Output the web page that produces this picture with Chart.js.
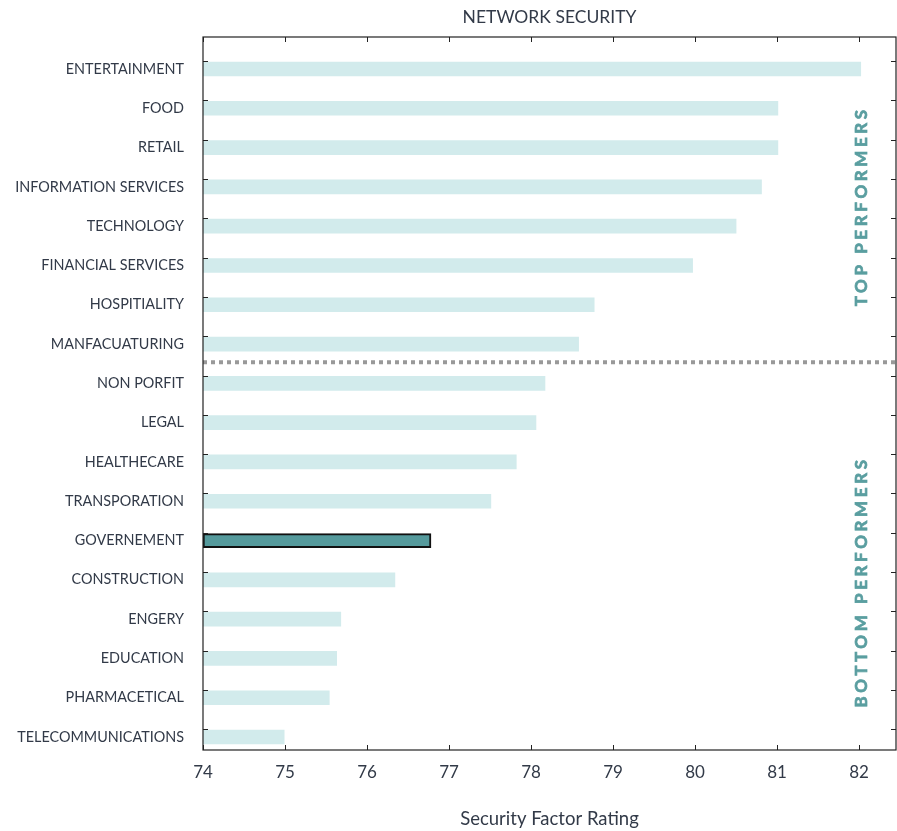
<!DOCTYPE html>
<html>
<head>
<meta charset="utf-8">
<script src="https://cdn.jsdelivr.net/npm/chart.js@4.4.1/dist/chart.umd.min.js"></script>
<style>
  html, body { margin: 0; padding: 0; background: #fff; }
  #wrap { width: 897px; height: 831px; }
</style>
</head>
<body>
<div id="wrap"><canvas id="chart"></canvas></div>
<script>
// Data
const CATEGORIES = [
    'ENTERTAINMENT', 'FOOD', 'RETAIL', 'INFORMATION SERVICES', 'TECHNOLOGY',
    'FINANCIAL SERVICES', 'HOSPITIALITY', 'MANFACUATURING', 'NON PORFIT', 'LEGAL',
    'HEALTHECARE', 'TRANSPORATION', 'GOVERNEMENT', 'CONSTRUCTION', 'ENGERY',
    'EDUCATION', 'PHARMACETICAL', 'TELECOMMUNICATIONS'
];
const RATINGS = [
    82.02, 81.01, 81.01, 80.81, 80.50,
    79.97, 78.77, 78.58, 78.17, 78.06,
    77.82, 77.51, 76.78, 76.34, 75.68,
    75.63, 75.54, 74.99
];
const X_TICKS = [74, 75, 76, 77, 78, 79, 80, 81, 82];
const HIGHLIGHT = 'GOVERNEMENT';
const TOP_COUNT = 8;     // first 8 rows are top performers
const GROUP_LABELS = ['TOP PERFORMERS', 'BOTTOM PERFORMERS'];
const TITLE = 'NETWORK SECURITY';
const X_TITLE = 'Security Factor Rating';

const TEXT = '#323a48';
const TEAL = '#5a9ea0';
const FONT = 'Lato';

// Border box, inward tick marks, split line, group labels and title
const decorPlugin = {
    id: 'decor',
    afterDatasetsDraw(chart) {
        const { ctx, chartArea: a, scales: { x, y } } = chart;
        const step = y.getPixelForValue(1) - y.getPixelForValue(0);
        ctx.save();

        // inward tick marks
        ctx.strokeStyle = '#222';
        ctx.lineWidth = 1;
        ctx.beginPath();
        X_TICKS.forEach(v => {
            const px = Math.round(x.getPixelForValue(v)) + 0.5;
            ctx.moveTo(px, a.top); ctx.lineTo(px, a.top + 5);
            ctx.moveTo(px, a.bottom); ctx.lineTo(px, a.bottom - 5);
        });
        CATEGORIES.forEach((c, i) => {
            const py = Math.round(y.getPixelForValue(i) - 0.2 * step) + 0.5;
            ctx.moveTo(a.left, py); ctx.lineTo(a.left + 5, py);
            ctx.moveTo(a.right, py); ctx.lineTo(a.right - 5, py);
        });
        ctx.stroke();

        // split line between the two groups
        const sy = y.getPixelForValue(TOP_COUNT - 0.54);
        ctx.strokeStyle = '#999';
        ctx.lineWidth = 4;
        ctx.setLineDash([4, 4]);
        ctx.beginPath();
        ctx.moveTo(a.left, sy); ctx.lineTo(a.right, sy);
        ctx.stroke();
        ctx.setLineDash([]);

        // box
        ctx.strokeStyle = '#222';
        ctx.lineWidth = 1.2;
        ctx.strokeRect(a.left, a.top, a.right - a.left, a.bottom - a.top);

        // group labels on the right (stroked a little to look heavier)
        ctx.fillStyle = TEAL;
        ctx.strokeStyle = TEAL;
        ctx.lineWidth = 0.7;
        ctx.font = `bold 17px ${FONT}`;
        ctx.letterSpacing = '3.6px';
        ctx.textAlign = 'center';
        ctx.textBaseline = 'middle';
        [[GROUP_LABELS[0], 3.54], [GROUP_LABELS[1], 13.1]].forEach(([t, at]) => {
            ctx.save();
            ctx.translate(862, y.getPixelForValue(at));
            ctx.rotate(-Math.PI / 2);
            ctx.fillText(t, 1.8, 0);
            ctx.strokeText(t, 1.8, 0);
            ctx.restore();
        });
        ctx.letterSpacing = '0px';

        // title
        ctx.fillStyle = TEXT;
        ctx.font = `17.5px ${FONT}`;
        ctx.fillText(TITLE, (a.left + a.right) / 2, 17);
        ctx.restore();
    }
};

const chartData = {
    datasets: [{
        data: RATINGS.map((v, i) => ({ x: v, y: i })),
        base: 74,
        barThickness: 14,
        backgroundColor: CATEGORIES.map(c => c === HIGHLIGHT ? '#559a9c' : '#d2ebec'),
        borderColor: '#111',
        borderWidth: CATEGORIES.map(c => c === HIGHLIGHT ? 2 : 0),
        borderSkipped: false
    }]
};

const config = {
    type: 'bar',
    data: chartData,
    options: {
        indexAxis: 'y',
        responsive: true,
        maintainAspectRatio: false,
        animation: false,
        layout: { padding: { top: 37, right: 1, left: 0, bottom: 0 } },
        plugins: {
            legend: { display: false },
            tooltip: { enabled: false }
        },
        scales: {
            x: {
                type: 'linear',
                min: 74,
                max: 82.45,
                afterBuildTicks: (scale) => { scale.ticks = X_TICKS.map(v => ({ value: v })); },
                afterFit: (scale) => { scale.height = 81; },
                grid: { display: false, drawTicks: false },
                border: { display: false },
                ticks: { padding: 12, color: TEXT, font: { family: FONT, size: 17 } },
                title: {
                    display: true,
                    text: X_TITLE,
                    color: TEXT,
                    font: { family: FONT, size: 18.5 },
                    padding: { top: 0, bottom: 1 }
                }
            },
            y: {
                type: 'linear',
                reverse: true,
                offset: false,
                min: -0.814,
                max: 17.33,
                afterBuildTicks: (scale) => { scale.ticks = CATEGORIES.map((c, i) => ({ value: i })); },
                afterFit: (scale) => { scale.width = 203; },
                grid: { display: false, drawTicks: false },
                border: { display: false },
                ticks: {
                    padding: 19,
                    color: TEXT,
                    font: { family: FONT, size: 14.4 },
                    callback: (v) => CATEGORIES[v]
                }
            }
        }
    },
    plugins: [decorPlugin]
};

new Chart(document.getElementById('chart'), config);
</script>
</body>
</html>
